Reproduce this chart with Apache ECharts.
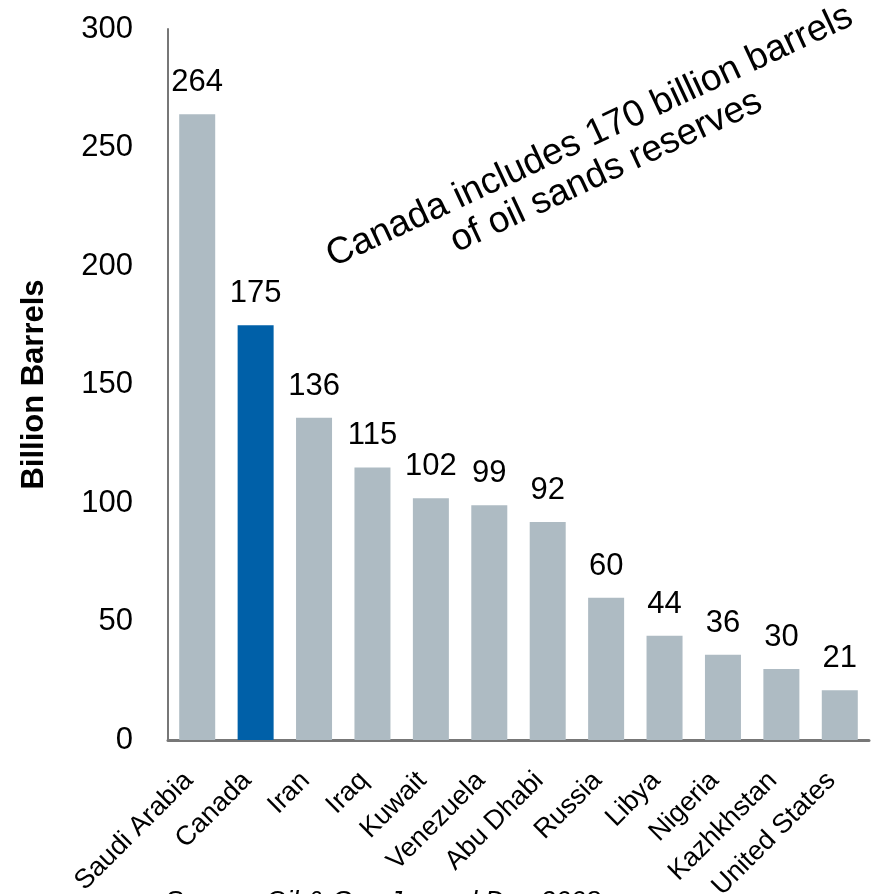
<!DOCTYPE html>
<html><head><meta charset="utf-8">
<script src="https://cdn.jsdelivr.net/npm/echarts@6/dist/echarts.min.js"></script>
<style>html,body{margin:0;padding:0;background:#fff}#c{width:872px;height:894px}</style>
</head><body><div id="c"></div>
<script>
const categories = ["Saudi Arabia","Canada","Iran","Iraq","Kuwait","Venezuela","Abu Dhabi","Russia","Libya","Nigeria","Kazhkhstan","United States"];
const reserves = [264,175,136,115,102,99,92,60,44,36,30,21];
const highlight = "Canada";
const yTicks = [0,50,100,150,200,250,300];
const annotation = ["Canada includes 170 billion barrels","of oil sands reserves"];
const sourceText = "Source: Oil & Gas Journal Dec 2008";

const chart = echarts.init(document.getElementById('c'), null, {renderer:'canvas'});
const font = 'Arial, "Liberation Sans", sans-serif';
chart.setOption({
  animation:false,
  grid:{left:168,right:3,top:29,bottom:154,containLabel:false,outerBoundsMode:'none'},
  xAxis:{type:'category',data:categories,
    axisLine:{lineStyle:{color:'#777',width:3}},
    axisTick:{show:false},
    axisLabel:{rotate:45,interval:0,color:'#000',fontFamily:font,fontSize:27,margin:28,padding:[0,12,0,0]}},
  yAxis:{type:'value',min:yTicks[0],max:yTicks[yTicks.length-1],interval:50,
    name:'Billion Barrels',nameLocation:'middle',nameGap:118,
    nameTextStyle:{fontFamily:font,fontSize:31,fontWeight:'bold',color:'#000'},
    axisLine:{show:true,lineStyle:{color:'#777',width:2}},
    axisTick:{show:false},splitLine:{show:false},
    axisLabel:{color:'#000',fontFamily:font,fontSize:31,margin:35}},
  series:[{type:'bar',barWidth:36,
    data:reserves.map((v,i)=>({value:v,itemStyle:{color:categories[i]===highlight?'#0060a8':'#aebbc3'}})),
    label:{show:true,position:'top',distance:16,color:'#000',fontFamily:font,fontSize:31}}],
  graphic:[
    {type:'text',x:598,y:154,rotation:25*Math.PI/180,
      style:{text:annotation.join('\n'),fontFamily:font,fontSize:37,fill:'#000',align:'center',verticalAlign:'middle',lineHeight:39}},
    {type:'text',left:165,top:889,
      style:{text:sourceText,fontFamily:font,fontSize:27,fontStyle:'italic',fill:'#000'}}
  ]
});
</script></body></html>
